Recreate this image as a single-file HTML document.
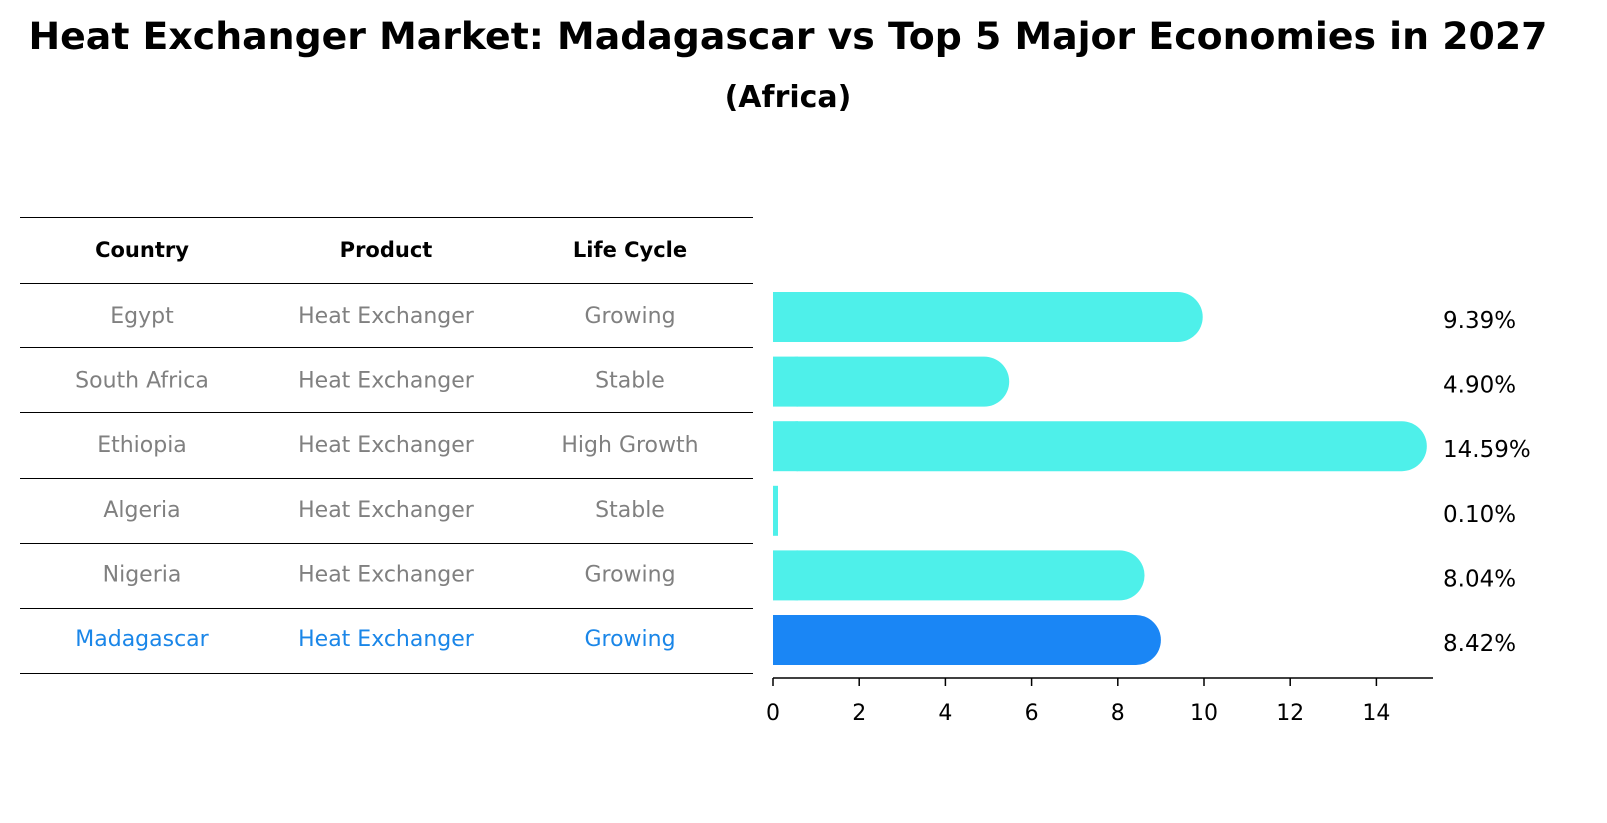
<!DOCTYPE html>
<html><head><meta charset="utf-8"><style>
html,body{margin:0;padding:0;background:#fff;width:1607px;height:823px;overflow:hidden}
svg{position:absolute;left:0;top:0;display:block}
</style></head><body>
<svg width="1607" height="823" viewBox="0 0 1607 823" xmlns="http://www.w3.org/2000/svg" font-family="DejaVu Sans, Liberation Sans, sans-serif">
<text x="788" y="49" text-anchor="middle" font-size="37" font-weight="bold" textLength="1519" lengthAdjust="spacingAndGlyphs">Heat Exchanger Market: Madagascar vs Top 5 Major Economies in 2027</text>
<text x="788" y="107" text-anchor="middle" font-size="30" font-weight="bold">(Africa)</text>
<g id="table"></g>
<g id="bars"></g>
</svg>
<script>
const countries=["Egypt","South Africa","Ethiopia","Algeria","Nigeria","Madagascar"];
const products=["Heat Exchanger","Heat Exchanger","Heat Exchanger","Heat Exchanger","Heat Exchanger","Heat Exchanger"];
const lifeCycles=["Growing","Stable","High Growth","Stable","Growing","Growing"];
const values=[9.39,4.90,14.59,0.10,8.04,8.42];
const ticks=[0,2,4,6,8,10,12,14];
const NS="http://www.w3.org/2000/svg";
function mk(tag,attrs,parent,text){const e=document.createElementNS(NS,tag);for(const k in attrs)e.setAttribute(k,attrs[k]);if(text!==undefined)e.textContent=text;parent.appendChild(e);return e;}
const x0=773,ppu=43.1;
const xs=v=>x0+v*ppu;
const rowY=i=>315+i*64.6;
const tbl=document.getElementById('table');
const lines=[217,283,347,412,478,543,608,673];
lines.forEach(y=>{const l=mk('line',{x1:20,x2:753,y1:y+0.5,y2:y+0.5,stroke:'#000','stroke-width':1},tbl);

});
const cols=[142,386,630];
["Country","Product","Life Cycle"].forEach((h,j)=>{const t=mk('text',{x:cols[j],y:257,'text-anchor':'middle','font-size':21,'font-weight':'bold'},tbl,h);

});
const bars=document.getElementById('bars');
countries.forEach((c,i)=>{
 const hl=c==="Madagascar";const col=hl?'#1a86e8':'#808080';
 const y=rowY(i);
 [c,products[i],lifeCycles[i]].forEach((s,j)=>{const t=mk('text',{x:cols[j],y:y+8,'text-anchor':'middle','font-size':22,fill:col},tbl,s);
 
 });
 const v=values[i];const h=50;const fill=hl?'#1a86f5':'#4ef0ea';
 const w=v*ppu;const r=w>h/2?h/2:0;
 const rect=mk('rect',{x:x0,y:y-h/2+2,width:Math.max(w+r,5),height:h,rx:r,fill:fill},bars);
 
 
 if(r){const sq=mk('rect',{x:x0,y:y-h/2+2,width:r,height:h,fill:fill},bars);
 
 }
 const lab=mk('text',{x:1443,y:y+13,'font-size':23},bars,v.toFixed(2)+'%');
 
 
});
const ax=mk('line',{x1:x0,x2:1433,y1:678,y2:678,stroke:'#000','stroke-width':1.5},bars);


ticks.forEach(t=>{const tk=mk('line',{x1:xs(t),x2:xs(t),y1:678,y2:686,stroke:'#000','stroke-width':1.5},bars);


const tl=mk('text',{x:xs(t),y:720,'text-anchor':'middle','font-size':22},bars,String(t));

});
</script>
</body></html>
